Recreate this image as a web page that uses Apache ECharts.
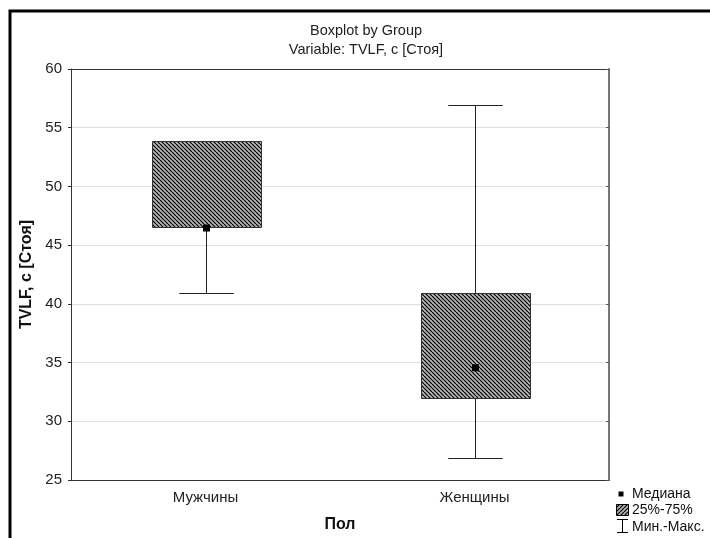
<!DOCTYPE html>
<html>
<head>
<meta charset="utf-8">
<script src="https://cdn.jsdelivr.net/npm/echarts@6/dist/echarts.min.js"></script>
<style>html,body{margin:0;padding:0;background:#fff}#c{width:710px;height:538px}</style>
</head>
<body>
<div id="c"></div>
<script>
const categories = ['Мужчины', 'Женщины'];
const minValues = [40.9, 26.9];
const q1Values = [46.6, 32.0];
const medianValues = [46.5, 34.6];
const q3Values = [53.9, 40.9];
const maxValues = [53.9, 56.9];
const yTicks = {min: 25, max: 60, interval: 5};
const titleText = 'Boxplot by Group';
const subtitleText = 'Variable: TVLF, c [Стоя]';
const yName = 'TVLF, c [Стоя]';
const xName = 'Пол';
const legendLabels = ['Медиана', '25%-75%', 'Мин.-Макс.'];

function makeHatch(dir) {
  const n = 4;
  const c = document.createElement('canvas');
  c.width = n; c.height = n;
  const g = c.getContext('2d');
  g.fillStyle = '#b4b4b4';
  g.fillRect(0, 0, n, n);
  g.strokeStyle = '#000';
  g.lineWidth = 1.2;
  g.beginPath();
  for (let k = -n; k <= n; k += n) {
    if (dir === '\\') { g.moveTo(k, 0); g.lineTo(k + n, n); }
    else { g.moveTo(k, n); g.lineTo(k + n, 0); }
  }
  g.stroke();
  return c;
}
const hatchBox = makeHatch('\\');
const hatchLegend = makeHatch('/');

const boxData = categories.map((c, i) => [i, minValues[i], q1Values[i], medianValues[i], q3Values[i], maxValues[i]]);

const chart = echarts.init(document.getElementById('c'), null, {renderer: 'canvas'});
const font = 'Arial, "Liberation Sans", sans-serif';
chart.setOption({
  animation: false,
  backgroundColor: '#fff',
  textStyle: {fontFamily: font},
  grid: {left: 71, right: 101, top: 69, bottom: 55, containLabel: false},
  xAxis: [{
    type: 'category', data: categories, position: 'bottom',
    axisLine: {lineStyle: {color: '#333', width: 1}},
    axisTick: {inside: true, length: 4, alignWithLabel: true, lineStyle: {color: '#333'}},
    axisLabel: {margin: 10, fontSize: 15, color: '#222', fontFamily: font},
    name: xName, nameLocation: 'middle', nameGap: 37,
    nameTextStyle: {fontSize: 16, fontWeight: 'bold', color: '#111', fontFamily: font}
  }, {
    type: 'category', data: categories, position: 'top',
    axisLine: {lineStyle: {color: '#333', width: 1}},
    axisTick: {inside: true, length: 4, alignWithLabel: true, lineStyle: {color: '#333'}},
    axisLabel: {show: false}
  }],
  yAxis: [{
    type: 'value', min: yTicks.min, max: yTicks.max, interval: yTicks.interval, position: 'left',
    axisLine: {show: true, lineStyle: {color: '#333', width: 1}},
    axisTick: {show: true, length: 3, lineStyle: {color: '#333'}},
    axisLabel: {margin: 9, fontSize: 15, color: '#222', fontFamily: font},
    splitLine: {show: true, lineStyle: {color: '#e0e0e0', width: 1}},
    name: yName, nameLocation: 'middle', nameGap: 35, nameRotate: 90,
    nameTextStyle: {fontSize: 16, fontWeight: 'bold', color: '#111', fontFamily: font}
  }, {
    type: 'value', min: yTicks.min, max: yTicks.max, interval: yTicks.interval, position: 'right',
    axisLine: {show: true, lineStyle: {color: '#777', width: 2}},
    axisTick: {show: true, inside: true, length: 3, lineStyle: {color: '#555'}},
    axisLabel: {show: false},
    splitLine: {show: false}
  }],
  series: [{
    type: 'custom',
    xAxisIndex: 0, yAxisIndex: 0,
    data: boxData,
    renderItem: function (params, api) {
      const x = api.value(0);
      const pMin = api.coord([x, api.value(1)]);
      const pQ1 = api.coord([x, api.value(2)]);
      const pMed = api.coord([x, api.value(3)]);
      const pQ3 = api.coord([x, api.value(4)]);
      const pMax = api.coord([x, api.value(5)]);
      const band = api.size([1, 0])[0];
      const bw = band * 0.405;
      const cw = bw / 2;
      const cx = Math.round(pMin[0]) + 0.5;
      const ls = {stroke: '#222', lineWidth: 1};
      const r = v => Math.round(v) + 0.5;
      return {
        type: 'group',
        children: [
          {type: 'line', shape: {x1: cx, y1: r(pMin[1]), x2: cx, y2: r(pQ1[1])}, style: ls},
          {type: 'line', shape: {x1: cx, y1: r(pQ3[1]), x2: cx, y2: r(pMax[1])}, style: ls},
          {type: 'line', shape: {x1: cx - cw / 2, y1: r(pMin[1]), x2: cx + cw / 2, y2: r(pMin[1])}, style: ls},
          {type: 'line', shape: {x1: cx - cw / 2, y1: r(pMax[1]), x2: cx + cw / 2, y2: r(pMax[1])}, style: ls},
          {type: 'rect', shape: {x: r(cx - bw / 2), y: r(pQ3[1]), width: Math.round(bw), height: Math.round(pQ1[1] - pQ3[1])},
           style: {fill: {image: hatchBox, repeat: 'repeat'}, stroke: '#333', lineWidth: 1}},
          {type: 'rect', shape: {x: cx - 3.5, y: pMed[1] - 3, width: 7, height: 7}, style: {fill: '#000'}}
        ]
      };
    }
  }],
  graphic: [
    {type: 'rect', shape: {x: 10, y: 11, width: 760, height: 600}, style: {fill: 'none', stroke: '#000', lineWidth: 3}, silent: true},
    {type: 'text', x: 366, y: 31, style: {text: titleText, font: '14.5px ' + font, fill: '#222', textAlign: 'center', textVerticalAlign: 'middle'}},
    {type: 'text', x: 366, y: 50, style: {text: subtitleText, font: '14.5px ' + font, fill: '#222', textAlign: 'center', textVerticalAlign: 'middle'}},
    {type: 'rect', shape: {x: 618.5, y: 491.5, width: 5, height: 5}, style: {fill: '#000'}},
    {type: 'text', x: 632, y: 494, style: {text: legendLabels[0], font: '14px ' + font, fill: '#111', textVerticalAlign: 'middle'}},
    {type: 'rect', shape: {x: 616.5, y: 504.5, width: 12, height: 11}, style: {fill: {image: hatchLegend, repeat: 'repeat'}, stroke: '#000', lineWidth: 1}},
    {type: 'text', x: 632, y: 510, style: {text: legendLabels[1], font: '14px ' + font, fill: '#111', textVerticalAlign: 'middle'}},
    {type: 'line', shape: {x1: 622.5, y1: 519.5, x2: 622.5, y2: 532.5}, style: {stroke: '#000', lineWidth: 1}},
    {type: 'line', shape: {x1: 617, y1: 519.5, x2: 628, y2: 519.5}, style: {stroke: '#000', lineWidth: 1}},
    {type: 'line', shape: {x1: 617, y1: 532.5, x2: 628, y2: 532.5}, style: {stroke: '#000', lineWidth: 1}},
    {type: 'text', x: 632, y: 527, style: {text: legendLabels[2], font: '14px ' + font, fill: '#111', textVerticalAlign: 'middle'}}
  ]
});
</script>
</body>
</html>
